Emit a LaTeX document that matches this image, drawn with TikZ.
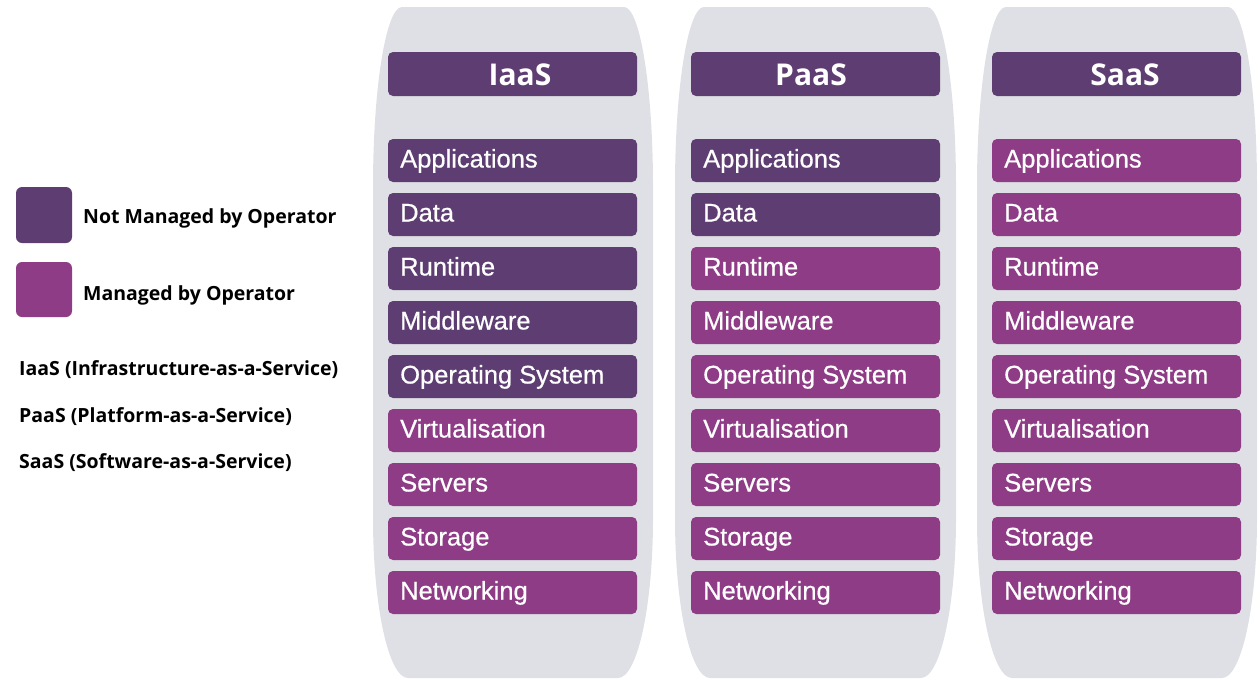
\documentclass[tikz,border=0pt]{standalone}
\usepackage{fontspec}
\setmainfont{Liberation Sans}
\newfontfamily\labelfont[FakeBold=0.6]{Liberation Sans}
\newfontfamily\opensans{Open Sans}
\definecolor{colbg}{HTML}{DFE0E5}
\definecolor{notmgd}{HTML}{5E3E72}
\definecolor{mgd}{HTML}{8F3C86}
\tikzset{
  layerbox/.style={rounded corners=5pt, inner sep=0pt},
  layertext/.style={anchor=base west, inner sep=0pt, text=white, font=\labelfont\fontsize{25.5}{25.5}\selectfont},
  headtext/.style={anchor=base, inner sep=0pt, text=white, font=\opensans\bfseries\fontsize{30}{30}\selectfont},
  legtext/.style={anchor=base west, inner sep=0pt, text=black, font=\opensans\bfseries\fontsize{19.5}{19.5}\selectfont},
}
\begin{document}
\begin{tikzpicture}[x=1pt,y=-1pt]
\useasboundingbox (0,0) rectangle (1260,680);
% column backgrounds
\foreach \L/\R [count=\c] in {373/653, 675/956, 977/1257}{
  \fill[colbg] (\L+29,7) -- (\R-29,7)
    arc[start angle=90, end angle=0, x radius=29, y radius=-180]
    -- (\R,678-160)
    arc[start angle=0, end angle=-90, x radius=35, y radius=-160]
    -- (\L+35,678)
    arc[start angle=270, end angle=180, x radius=35, y radius=-160]
    -- (\L,187)
    arc[start angle=180, end angle=90, x radius=29, y radius=-180]
    -- cycle;
}
% header boxes
\foreach \bx/\tx/\name in {388/520/IaaS, 691/811/PaaS, 992/1125/SaaS}{
  \fill[notmgd, layerbox] (\bx,52) rectangle (\bx+249,96);
  \node[headtext] (h\name) at (\tx,85) {\name};
}
% layers
\foreach \bx/\ndark [count=\c] in {388/5, 691/2, 992/0}{
  \foreach \lab [count=\i] in {Applications, Data, Runtime, Middleware, Operating System, Virtualisation, Servers, Storage, Networking}{
    \pgfmathsetmacro{\top}{139+(\i-1)*54}
    \ifnum\i>\ndark
      \fill[mgd, layerbox] (\bx,\top) rectangle (\bx+249,\top+43);
    \else
      \fill[notmgd, layerbox] (\bx,\top) rectangle (\bx+249,\top+43);
    \fi
    \node[layertext] (l\c-\i) at (\bx+12,\top+28.5) {\lab};
  }
}
% legend
\fill[notmgd, rounded corners=6pt] (16,187) rectangle (72,243);
\fill[mgd, rounded corners=6pt] (16,262) rectangle (72,317);
\node[legtext] (leg1) at (83,223) {Not Managed by Operator};
\node[legtext] (leg2) at (83,300) {Managed by Operator};
\node[legtext] (leg3) at (19,375) {IaaS (Infrastructure-as-a-Service)};
\node[legtext] (leg4) at (19,422) {PaaS (Platform-as-a-Service)};
\node[legtext] (leg5) at (19,468) {SaaS (Software-as-a-Service)};
\end{tikzpicture}
\end{document}
